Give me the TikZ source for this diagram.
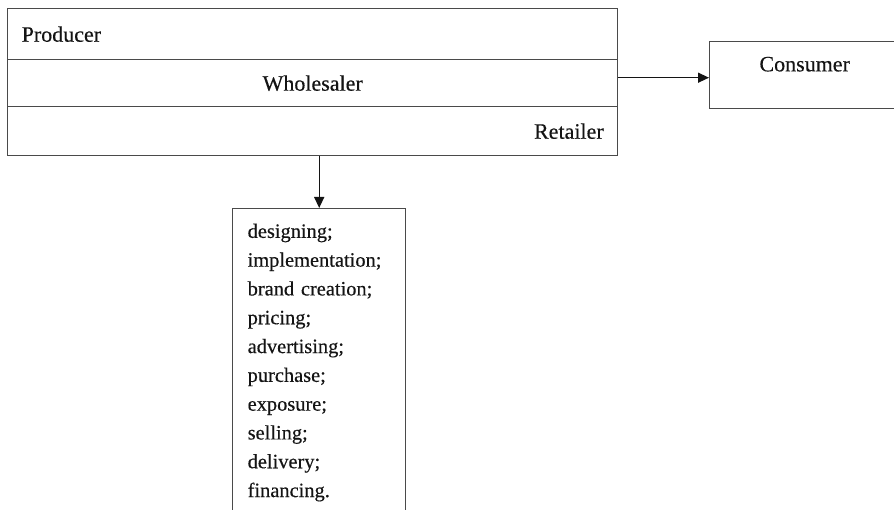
\documentclass[tikz,border=0pt]{standalone}
\usepackage{fontspec}
\setmainfont{Liberation Serif}[FakeBold=0.35]
\usetikzlibrary{arrows.meta}

\definecolor{edge}{HTML}{4A4A4A}
\definecolor{ink}{HTML}{141414}

\tikzset{
  frame/.style={draw=edge, line width=1.4pt, rectangle, text=ink},
  rowbox/.style={frame, anchor=north west, minimum width=610pt, text width=582pt,
    inner xsep=14pt, inner ysep=0pt, font=\fontsize{22}{26}\selectfont},
  link/.style={draw=ink, line width=1.4pt, -{Triangle[length=11pt,width=10pt]}}
}

\begin{document}
\begin{tikzpicture}[x=1pt,y=-1pt]
  \useasboundingbox (0,0) rectangle (894,510);

  % stacked channel levels
  \node[rowbox, minimum height=51pt, align=left]   (producer)   at (7,8)   {Producer};
  \node[rowbox, minimum height=47pt, align=center] (wholesaler) at (7,59)  {Wholesaler};
  \node[rowbox, minimum height=49pt, align=right]  (retailer)   at (7,106) {Retailer};

  % end customer, running past the right edge
  \node[frame, anchor=north west, minimum width=190pt, minimum height=67pt,
        label={[name=consumertext, text=ink, font=\fontsize{22}{26}\selectfont,
                yshift=11pt]center:Consumer}]
        (consumer) at (709,41) {};

  % list of functions, running past the bottom edge
  \node[frame, anchor=north west, text width=143pt, inner xsep=15pt, inner ysep=15pt,
        align=left, font=\fontsize{20.4}{28.8}\selectfont] (functions) at (232,208)
    {designing;\\
     implementation;\\
     brand creation;\\
     pricing;\\
     advertising;\\
     purchase;\\
     exposure;\\
     selling;\\
     delivery;\\
     financing.};

  % connectors
  \draw[link] ([yshift=5.5pt]wholesaler.east) -- ([yshift=5.5pt]wholesaler.east -| consumer.west);
  \draw[link] (functions.north |- retailer.south) -- (functions.north);
\end{tikzpicture}
\end{document}
